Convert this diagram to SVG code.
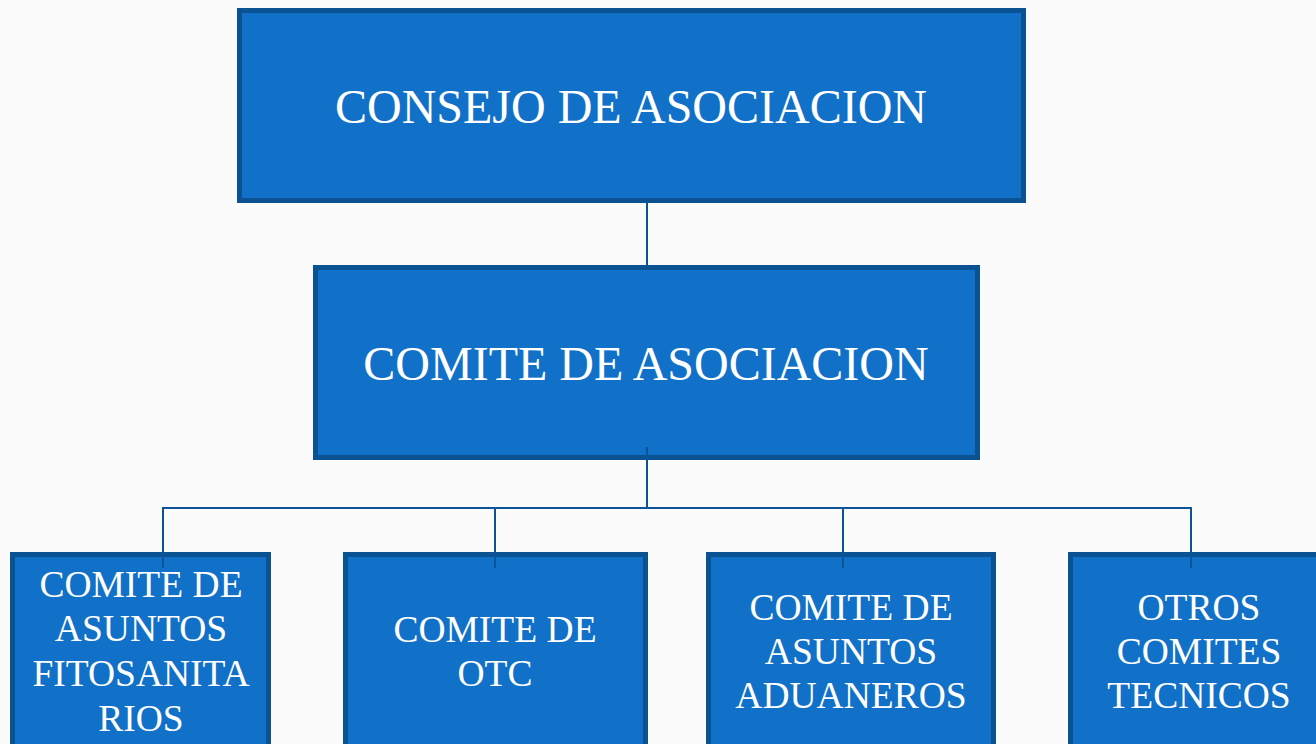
<svg xmlns="http://www.w3.org/2000/svg" width="1316" height="744" viewBox="0 0 1316 744">
<style>
.box{fill:#1170c8;stroke:#0b5293;stroke-width:5}
.t{fill:#ffffff;font-family:"Liberation Serif","DejaVu Serif",serif;text-anchor:middle}
.big{font-size:48px}
.sm{font-size:37.5px}
.ln{stroke:#0c5497;stroke-width:2;fill:none}
</style>
<rect width="1316" height="744" fill="#fbfbfb"/>
<g id="n1"><rect class="box" x="239.5" y="10.5" width="784" height="190"/><text class="t big" x="631" y="123">CONSEJO DE ASOCIACION</text></g>
<g id="n2"><rect class="box" x="315.5" y="267.5" width="662" height="190"/><text class="t big" x="646" y="380">COMITE DE ASOCIACION</text></g>
<g id="n3"><rect class="box" x="12.5" y="554.5" width="256" height="200"/><text class="t sm" x="141" y="597">COMITE DE</text><text class="t sm" x="141" y="641">ASUNTOS</text><text class="t sm" x="141" y="686">FITOSANITA</text><text class="t sm" x="141" y="731">RIOS</text></g>
<g id="n4"><rect class="box" x="345.5" y="554.5" width="300" height="200"/><text class="t sm" x="495" y="642">COMITE DE</text><text class="t sm" x="495" y="686">OTC</text></g>
<g id="n5"><rect class="box" x="708.5" y="554.5" width="285" height="200"/><text class="t sm" x="851" y="620">COMITE DE</text><text class="t sm" x="851" y="664">ASUNTOS</text><text class="t sm" x="851" y="708">ADUANEROS</text></g>
<g id="n6"><rect class="box" x="1070.5" y="554.5" width="260" height="200"/><text class="t sm" x="1199" y="620">OTROS</text><text class="t sm" x="1199" y="664">COMITES</text><text class="t sm" x="1199" y="708">TECNICOS</text></g>
<g id="connectors">
<path class="ln" d="M647 203V265"/>
<path class="ln" d="M647 447V508M163 568V508H1191V568M495 508V568M843 508V568"/>
</g>
</svg>
